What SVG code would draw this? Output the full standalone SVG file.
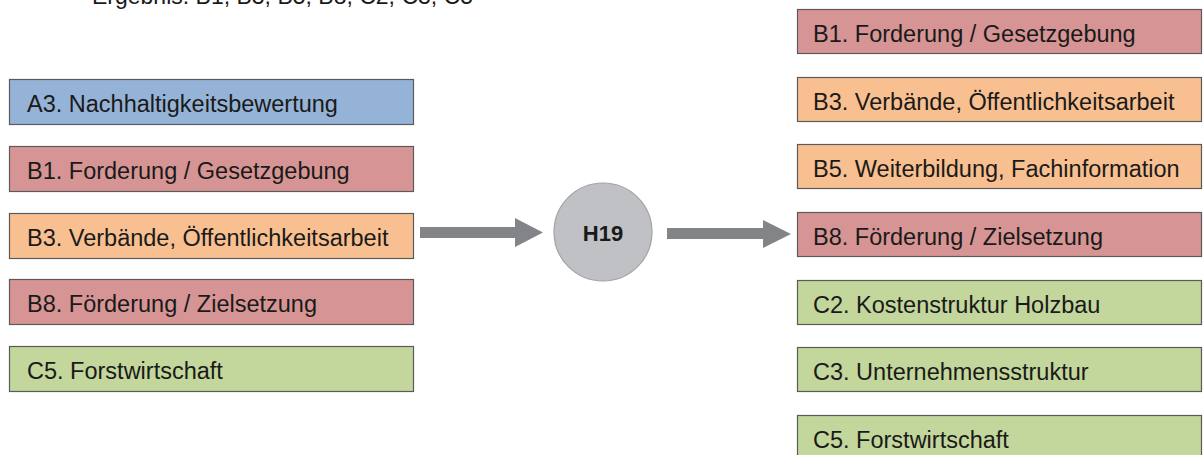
<svg xmlns="http://www.w3.org/2000/svg" width="1203" height="455" viewBox="0 0 1203 455">
<style>
.box{stroke:#5a5a5a;stroke-width:1.2}
.blue{fill:#95b3d7}.red{fill:#d69594}.orange{fill:#f8c090}.green{fill:#c3d69b}
.t{font-family:"Liberation Sans",Arial,sans-serif;font-size:23.5px;fill:#1a1a1a}
.arrow{fill:#838487}
</style>
<rect width="1203" height="455" fill="#ffffff"/>
<text class="t" x="92" y="4" style="font-size:23px">Ergebnis: B1, B3, B5, B8, C2, C3, C5</text>
<g id="left-A3"><rect class="box blue" x="9.5" y="79.5" width="404" height="45"/><text class="t" x="27" y="112">A3. Nachhaltigkeitsbewertung</text></g>
<g id="left-B1"><rect class="box red" x="9.5" y="146.5" width="404" height="45"/><text class="t" x="27" y="179">B1. Forderung / Gesetzgebung</text></g>
<g id="left-B3"><rect class="box orange" x="9.5" y="213.5" width="404" height="45"/><text class="t" x="27" y="246">B3. Verbände, Öffentlichkeitsarbeit</text></g>
<g id="left-B8"><rect class="box red" x="9.5" y="279.5" width="404" height="45"/><text class="t" x="27" y="312">B8. Förderung / Zielsetzung</text></g>
<g id="left-C5"><rect class="box green" x="9.5" y="346.5" width="404" height="45"/><text class="t" x="27" y="379">C5. Forstwirtschaft</text></g>
<g id="H19"><circle cx="603" cy="232" r="49" fill="#c0c1c5" stroke="#a2a3a7" stroke-width="1.2"/><text class="t" x="603" y="240.5" text-anchor="middle" style="font-weight:bold;font-size:22px">H19</text></g>
<g id="right-B1"><rect class="box red" x="797.5" y="9.5" width="404" height="44"/><text class="t" x="813" y="42">B1. Forderung / Gesetzgebung</text></g>
<g id="right-B3"><rect class="box orange" x="797.5" y="77.5" width="404" height="44"/><text class="t" x="813" y="110">B3. Verbände, Öffentlichkeitsarbeit</text></g>
<g id="right-B5"><rect class="box orange" x="797.5" y="144.5" width="404" height="44"/><text class="t" x="813" y="177">B5. Weiterbildung, Fachinformation</text></g>
<g id="right-B8"><rect class="box red" x="797.5" y="212.5" width="404" height="44"/><text class="t" x="813" y="245">B8. Förderung / Zielsetzung</text></g>
<g id="right-C2"><rect class="box green" x="797.5" y="280.5" width="404" height="44"/><text class="t" x="813" y="313">C2. Kostenstruktur Holzbau</text></g>
<g id="right-C3"><rect class="box green" x="797.5" y="347.5" width="404" height="44"/><text class="t" x="813" y="380">C3. Unternehmensstruktur</text></g>
<g id="right-C5"><rect class="box green" x="797.5" y="415.5" width="404" height="44"/><text class="t" x="813" y="448">C5. Forstwirtschaft</text></g>
<g id="connectors">
<polygon class="arrow" points="420,227 515,227 515,218 543,232.5 515,247 515,238 420,238"/>
<polygon class="arrow" points="667,228 763,228 763,220 791,234 763,248 763,239 667,239"/>
</g>
</svg>
